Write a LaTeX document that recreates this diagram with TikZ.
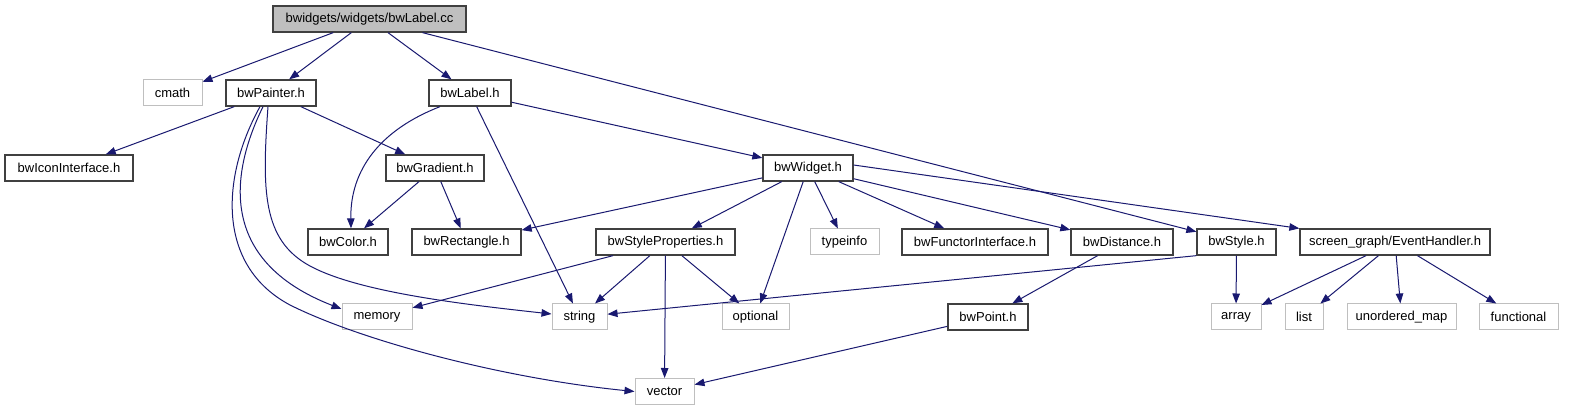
\documentclass[tikz,border=0pt]{standalone}
\usepackage{fontspec}
\newfontfamily\hfont{Liberation Sans}
\usepackage{tikz}
\usetikzlibrary{arrows.meta,calc}
\definecolor{edgeblue}{HTML}{191970}
\definecolor{grey25}{HTML}{404040}
\definecolor{grey75}{HTML}{BFBFBF}

\begin{document}
\begin{tikzpicture}[x=1pt,y=-1pt,
  hdr/.style={draw=grey25, fill=white, line width=1.3pt, minimum height=26pt, inner sep=0pt,
    font={\hfont\fontsize{13pt}{15pt}\selectfont}},
  sys/.style={hdr, draw=grey75, line width=1pt},
  dep/.style={draw=edgeblue, line width=1pt, -{Triangle[length=10pt,width=7.5pt]}}]
  % Canvas (pixel grid of the reference, y downwards)
  \fill[white] (0,0) rectangle (1571,411);
  \useasboundingbox (0,0) rectangle (1571,411);

  % Top row: the file itself and its direct includes
  \node[hdr, fill=grey75, minimum width=193pt] (labelcc) at (369.5,19) {bwidgets/widgets/bwLabel.cc};
  \node[sys, minimum width=59pt] (cmath) at (172.5,93) {cmath};
  \node[hdr, minimum width=90pt] (painter) at (271,93) {bwPainter.h};
  \node[hdr, minimum width=82pt] (labelh) at (470,93) {bwLabel.h};

  % Second row
  \node[hdr, minimum width=128pt] (iconiface) at (69,168) {bwIconInterface.h};
  \node[hdr, minimum width=98pt] (gradient) at (435,168) {bwGradient.h};
  \node[hdr, minimum width=90pt] (widget) at (808,168) {bwWidget.h};

  % Third row
  \node[hdr, minimum width=80pt] (color) at (348,242) {bwColor.h};
  \node[hdr, minimum width=109pt] (rectangle) at (466.5,242) {bwRectangle.h};
  \node[hdr, minimum width=139pt] (styleprops) at (665.5,242) {bwStyleProperties.h};
  \node[sys, minimum width=69pt] (typeinfo) at (844.5,242) {typeinfo};
  \node[hdr, minimum width=146pt] (functor) at (975,242) {bwFunctorInterface.h};
  \node[hdr, minimum width=102pt] (distance) at (1122,242) {bwDistance.h};
  \node[hdr, minimum width=79pt] (styleh) at (1236.5,242) {bwStyle.h};
  \node[hdr, minimum width=190pt] (evhandler) at (1395,242) {screen\_graph/EventHandler.h};

  % Fourth row
  \node[sys, minimum width=70pt] (memory) at (377,317) {memory};
  \node[sys, minimum width=55pt] (string) at (579.5,317) {string};
  \node[sys, minimum width=67pt] (optional) at (755.5,317) {optional};
  \node[hdr, minimum width=80pt] (point) at (988,317) {bwPoint.h};
  \node[sys, minimum width=50pt] (array) at (1236,317) {array};
  \node[sys, minimum width=38pt] (list) at (1304,317) {list};
  \node[sys, minimum width=109pt] (umap) at (1401.5,317) {unordered\_map};
  \node[sys, minimum width=79pt] (functional) at (1518.5,317) {functional};

  % Bottom row
  \node[sys, minimum width=59pt] (vector) at (664.5,391.5) {vector};

  % Edges from the source file
  \draw[dep] (labelcc) -- (cmath);
  \draw[dep] (labelcc) -- (painter);
  \draw[dep] (labelcc) -- (labelh);
  \draw[dep] (labelcc) -- (styleh);

  % Edges from bwPainter.h
  \draw[dep] (painter) -- (iconiface);
  \draw[dep] (painter) -- (gradient);
  \draw[dep] ([xshift=-11pt]painter.south) .. controls (222,175) and (215,265) .. (290,305)
    .. controls (360,340) and (500,378) .. (vector.west);
  \draw[dep] ([xshift=-8pt]painter.south) .. controls (232,170) and (215,260) .. ([yshift=8pt]memory.west);
  \draw[dep] ([xshift=-3pt]painter.south) .. controls (262,190) and (262,240) .. (310,266)
    .. controls (360,293) and (470,305) .. ([yshift=3pt]string.west);

  % Edges from bwLabel.h
  \draw[dep] ([xshift=-30pt]labelh.south) .. controls (380,130) and (350,170) .. ([xshift=3pt]color.north);
  \draw[dep] (labelh) -- (string);
  \draw[dep] (labelh) -- (widget);

  % Edges from bwGradient.h
  \draw[dep] (gradient) -- (color);
  \draw[dep] (gradient) -- (rectangle);

  % Edges from bwWidget.h
  \draw[dep] (widget) -- (rectangle);
  \draw[dep] (widget) -- (styleprops);
  \draw[dep] (widget) -- (optional);
  \draw[dep] (widget) -- (typeinfo);
  \draw[dep] (widget) -- (functor);
  \draw[dep] (widget) -- (distance);
  \draw[dep] ([yshift=3pt]widget.east) -- (evhandler);

  % Edges from the third row
  \draw[dep] (styleprops) -- (memory);
  \draw[dep] (styleprops) -- (string);
  \draw[dep] (styleprops) -- (vector);
  \draw[dep] (styleprops) -- (optional);
  \draw[dep] (styleh.south west) -- (string);
  \draw[dep] (styleh) -- (array);
  \draw[dep] (distance) -- (point);
  \draw[dep] (evhandler) -- (array);
  \draw[dep] (evhandler) -- (list);
  \draw[dep] (evhandler) -- (umap);
  \draw[dep] (evhandler) -- (functional);

  % Edge from bwPoint.h
  \draw[dep] (point) -- (vector);
\end{tikzpicture}
\end{document}
